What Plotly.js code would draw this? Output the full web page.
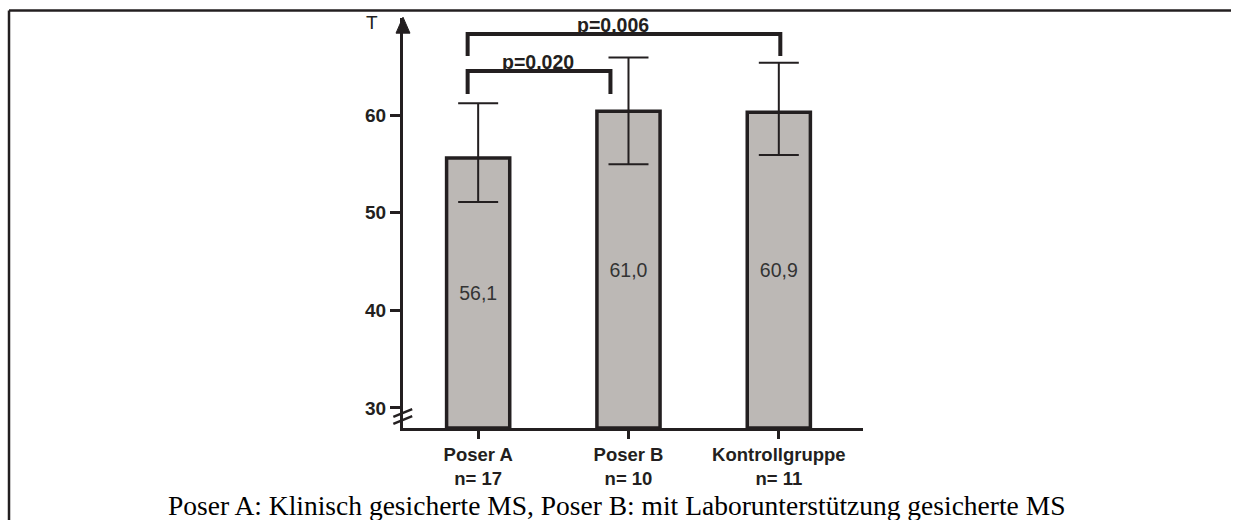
<!DOCTYPE html>
<html>
<head>
<meta charset="utf-8">
<script src="https://cdn.plot.ly/plotly-3.0.1.min.js"></script>
<style>html,body{margin:0;padding:0;background:#fff;overflow:hidden;}#chart{width:1233px;height:520px;}</style>
</head>
<body>
<div id="chart"></div>
<script>
// ---- data ----
var categories = ['Poser A', 'Poser B', 'Kontrollgruppe'];
var nLabels = ['n= 17', 'n= 10', 'n= 11'];
var means = [55.6, 60.4, 60.3];
var meanLabels = ['56,1', '61,0', '60,9'];
var errPlus = [5.6, 5.5, 5.05];
var errMinus = [4.5, 5.45, 4.4];
var yTickVals = [30, 40, 50, 60];
var comparisons = [
  {from: 0, to: 1, label: 'p=0,020'},
  {from: 0, to: 2, label: 'p=0,006'}
];
var caption = 'Poser A: Klinisch gesicherte MS, Poser B: mit Laborunterstützung gesicherte MS';
var yAxisLabel = 'T';

// ---- styling / layout ----
var ink = '#231f20';
var sans = 'Liberation Sans, Arial, sans-serif';
var yMin = 27.95, yMax = 69.94;
var xLabels = categories.map(function (c, i) { return c + '<br>' + nLabels[i]; });

var trace = {
  type: 'bar',
  x: xLabels,
  y: means.map(function (v) { return v - yMin; }),
  base: yMin,
  width: 0.42,
  marker: {color: '#bcb8b5', line: {color: ink, width: 3.5}},
  text: meanLabels,
  textposition: 'inside',
  insidetextanchor: 'middle',
  textfont: {family: sans, size: 19.5, color: '#333'},
  error_y: {type: 'data', symmetric: false, array: errPlus, arrayminus: errMinus,
            color: ink, thickness: 2, width: 20},
  hoverinfo: 'none'
};

// bracket geometry (positions, not data)
var bracketGeom = [
  {level: 64.5, drop: 2.35, dl: -0.07, dr: -0.12, tx: 0.40},
  {level: 68.3, drop: 2.25, dl: -0.07, dr: 0.01, tx: 0.90}
];

var shapes = [];
var annotations = [];
comparisons.forEach(function (c, i) {
  var g = bracketGeom[i];
  var x0 = c.from + g.dl, x1 = c.to + g.dr;
  var lo = g.level - g.drop;
  shapes.push({type: 'path', xref: 'x', yref: 'y',
    path: 'M ' + x0 + ',' + lo + ' L ' + x0 + ',' + g.level + ' L ' + x1 + ',' + g.level + ' L ' + x1 + ',' + lo,
    line: {color: ink, width: 4}});
  annotations.push({xref: 'x', yref: 'y', x: g.tx, y: g.level, yanchor: 'bottom', yshift: -4,
    text: c.label, showarrow: false,
    font: {family: sans, size: 19.5, color: ink, weight: 'bold'}});
});

// y-axis arrow head
shapes.push({type: 'path', xref: 'paper', yref: 'paper',
  path: 'M -0.0152,0.963 L 0,1.002 L 0.0152,0.963 Z',
  fillcolor: ink, line: {color: ink, width: 1}});
// axis break marks
shapes.push({type: 'line', xref: 'paper', yref: 'paper', x0: -0.021, y0: 0.027, x1: 0.02, y1: 0.046,
  line: {color: ink, width: 2.5}});
shapes.push({type: 'line', xref: 'paper', yref: 'paper', x0: -0.021, y0: 0.010, x1: 0.02, y1: 0.029,
  line: {color: ink, width: 2.5}});
// outer frame (top and left)
shapes.push({type: 'line', xref: 'paper', yref: 'paper', x0: -0.8565, y0: 1.0185, x1: 1.80, y1: 1.0185,
  line: {color: ink, width: 2.5}});
shapes.push({type: 'line', xref: 'paper', yref: 'paper', x0: -0.8565, y0: 1.0185, x1: -0.8565, y1: -0.25,
  line: {color: ink, width: 2.5}});

annotations.push({xref: 'paper', yref: 'paper', x: -0.067, y: 0.99, xanchor: 'center', yanchor: 'middle',
  text: yAxisLabel, showarrow: false,
  font: {family: sans, size: 19, color: ink}});
annotations.push({xref: 'paper', yref: 'paper', x: 0.465, y: -0.19, xanchor: 'center', yanchor: 'middle',
  text: caption, showarrow: false,
  font: {family: 'Liberation Serif, Times New Roman, serif', size: 27.5, color: '#000'}});

var layout = {
  width: 1233, height: 520,
  margin: {l: 403, r: 370, t: 18, b: 92, pad: 0},
  paper_bgcolor: '#fff', plot_bgcolor: '#fff',
  showlegend: false,
  xaxis: {
    type: 'category', range: [-0.5, 2.56],
    showline: true, linecolor: ink, linewidth: 3,
    ticks: 'outside', ticklen: 8, tickwidth: 3, tickcolor: ink,
    showgrid: false, zeroline: false, fixedrange: true,
    tickfont: {family: sans, size: 18.5, color: ink, weight: 'bold'}
  },
  yaxis: {
    range: [yMin, yMax],
    tickvals: yTickVals,
    showline: true, linecolor: ink, linewidth: 3,
    ticks: 'outside', ticklen: 10, tickwidth: 3, tickcolor: ink,
    showgrid: false, zeroline: false, fixedrange: true,
    tickfont: {family: sans, size: 19, color: ink, weight: 'bold'}
  },
  shapes: shapes,
  annotations: annotations
};

Plotly.newPlot('chart', [trace], layout, {staticPlot: true, displayModeBar: false});
</script>
</body>
</html>
